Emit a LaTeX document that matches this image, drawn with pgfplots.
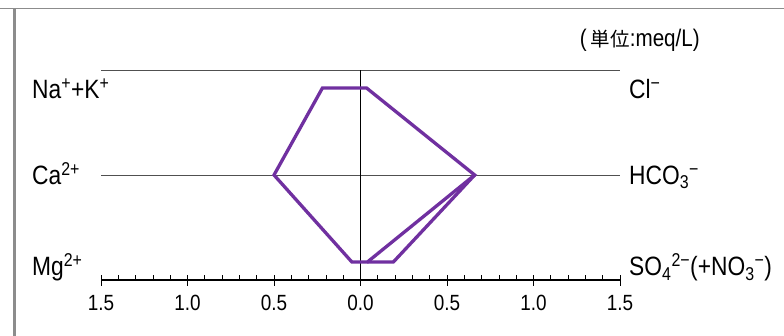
\documentclass[border=0pt]{standalone}
\usepackage{pgfplots}
\pgfplotsset{compat=1.18}
\usepackage{fontspec}
\setmainfont[FakeStretch=0.86]{Liberation Sans}
\newfontfamily\cjk{Noto Sans CJK JP}
\definecolor{stiff}{HTML}{7030A0}
\definecolor{gridgray}{HTML}{505050}
\definecolor{framegray}{HTML}{8C8C8C}
\newcommand{\lab}{\fontsize{26.5}{26.5}\selectfont}
\begin{document}
\begin{tikzpicture}[x=1pt,y=1pt]
\useasboundingbox (0,0) rectangle (784,336);
\fill[white] (0,0) rectangle (784,336);
\draw[framegray, line width=1.6pt] (0,327.5) -- (784,327.5);
\draw[framegray, line width=3pt] (14.5,327) -- (14.5,0);
\begin{axis}[
  at={(101pt,56pt)}, anchor=south west,
  scale only axis, width=519pt, height=210pt,
  xmin=-1.5, xmax=1.5, ymin=-0.207, ymax=2.207,
  clip=false,
  axis y line=none, axis x line=bottom,
  x axis line style={-, black, line width=1.1pt},
  xtick={-1.5,-1,-0.5,0,0.5,1,1.5},
  xticklabels={1.5,1.0,0.5,0.0,0.5,1.0,1.5},
  minor x tick num=4,
  tick align=inside,
  major tick length=5pt, minor tick length=4.5pt,
  tick style={black, line width=0.8pt},
  extra x ticks={-1.5,-1,-0.5,0,0.5,1,1.5},
  extra x tick labels={,,,,,,},
  extra x tick style={tick align=outside, major tick length=6pt},
  ytick=\empty,
  xticklabel style={font=\fontsize{22}{22}\selectfont, anchor=base, inner sep=0pt, yshift=-31pt},
]
\draw[gridgray, line width=0.9pt] (axis cs:-1.5,2.207) -- (axis cs:1.5,2.207);
\draw[gridgray, line width=0.9pt] (axis cs:-1.5,1) -- (axis cs:1.5,1);
\draw[black, line width=0.9pt] (axis cs:0,-0.207) -- (axis cs:0,2.207);
\addplot[stiff, line width=3.3pt, line join=miter, mark=none] coordinates {
  (-0.22,2) (0.035,2) (0.66,1) (0.04,0) (-0.05,0) (-0.50,1)
} -- cycle;
\addplot[stiff, line width=3.3pt, line join=miter, mark=none] coordinates {
  (0.66,1) (0.19,0) (0.04,0)
};
\end{axis}
\node[anchor=base west, inner sep=0pt, font=\lab] at (32,237.5) {Na\textsuperscript{+}+K\textsuperscript{+}};
\node[anchor=base west, inner sep=0pt, font=\lab] at (32,151.5) {Ca\textsuperscript{2+}};
\node[anchor=base west, inner sep=0pt, font=\lab] at (32,60) {Mg\textsuperscript{2+}};
\node[anchor=base west, inner sep=0pt, font=\lab] at (629,237.5) {Cl\textsuperscript{−}};
\node[anchor=base west, inner sep=0pt, font=\lab] at (629,151.5) {HCO\textsubscript{3}\textsuperscript{−}};
\node[anchor=base west, inner sep=0pt, font=\lab] at (629,60) {SO\textsubscript{4}\textsuperscript{2−}(+NO\textsubscript{3}\textsuperscript{−})};
\node[anchor=base east, inner sep=0pt, font=\fontsize{24}{24}\selectfont] at (700,289) {(\,{\fontsize{19.5}{19.5}\selectfont\cjk 単位}:meq/L)};
\end{tikzpicture}
\end{document}
